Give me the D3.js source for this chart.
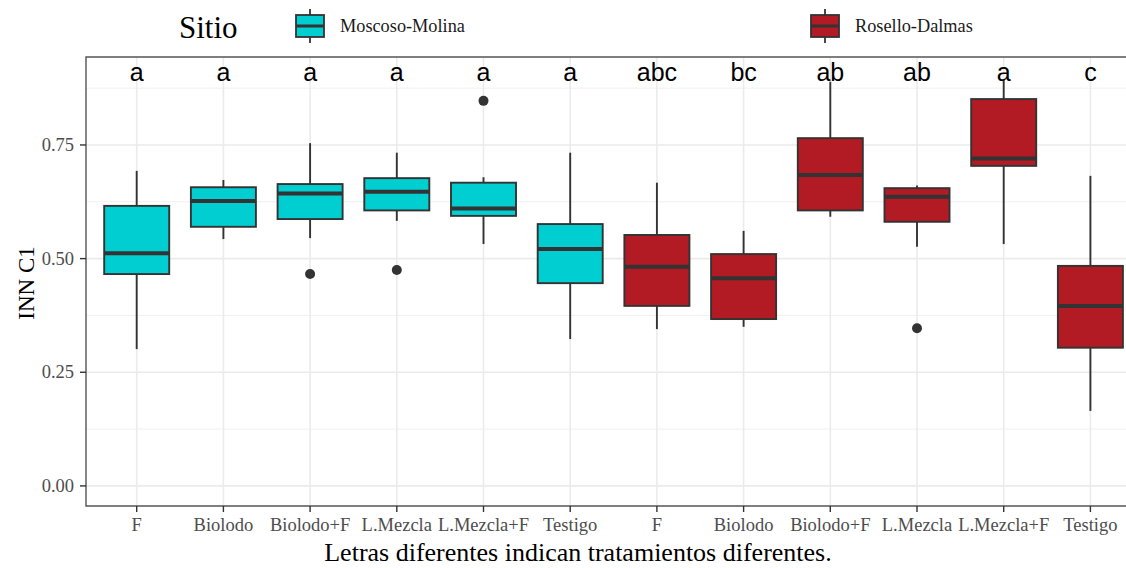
<!DOCTYPE html>
<html>
<head>
<meta charset="utf-8">
<script src="https://cdn.jsdelivr.net/npm/d3@7"></script>
<style>
  body { margin: 0; background: #fff; }
  svg { display: block; }
</style>
</head>
<body>
<svg id="chart" width="1126" height="568"></svg>
<script>
// treatments, one box per site x treatment
const treatments = ['F', 'Biolodo', 'Biolodo+F', 'L.Mezcla', 'L.Mezcla+F', 'Testigo']
const sites = ['Moscoso-Molina', 'Rosello-Dalmas']
const siteColors = ['#00CED1', '#B31B24']

// five-number summaries: [low, q1, median, q3, high]
const moscosoStats = [
  [0.301, 0.466, 0.512, 0.616, 0.693],
  [0.543, 0.570, 0.627, 0.657, 0.673],
  [0.545, 0.587, 0.643, 0.664, 0.754],
  [0.583, 0.606, 0.647, 0.677, 0.733],
  [0.532, 0.594, 0.610, 0.667, 0.679],
  [0.323, 0.446, 0.521, 0.576, 0.733],
]
const roselloStats = [
  [0.345, 0.396, 0.482, 0.552, 0.667],
  [0.350, 0.367, 0.457, 0.510, 0.561],
  [0.592, 0.606, 0.684, 0.765, 0.889],
  [0.526, 0.581, 0.636, 0.655, 0.661],
  [0.532, 0.704, 0.720, 0.851, 0.893],
  [0.165, 0.304, 0.396, 0.484, 0.682],
]
const moscosoOutliers = [[], [], [0.466], [0.475], [0.847], []]
const roselloOutliers = [[], [], [], [0.347], [], []]

const moscosoLetters = ['a', 'a', 'a', 'a', 'a', 'a']
const roselloLetters = ['abc', 'bc', 'ab', 'ab', 'a', 'c']

const yTicks = [0, 0.25, 0.5, 0.75]
const yMinor = [0.125, 0.375, 0.625, 0.875]

const boxes = [
  ...treatments.map((t, i) => ({
    key: 'MM-' + t, label: t, site: 0,
    stats: moscosoStats[i], outliers: moscosoOutliers[i], letter: moscosoLetters[i],
  })),
  ...treatments.map((t, i) => ({
    key: 'RD-' + t, label: t, site: 1,
    stats: roselloStats[i], outliers: roselloOutliers[i], letter: roselloLetters[i],
  })),
]

const svg = d3.select('#chart')
const panelLeft = 86, panelTop = 57, panelBottom = 506, panelRight = 1126
const serif = 'Liberation Serif, Times New Roman, serif'

const x = d3.scaleBand()
  .domain(boxes.map(d => d.key))
  .range([93.35, 93.35 + 86.7 * 12])
  .paddingInner(0.25)
  .paddingOuter(0.125)

const y = d3.scaleLinear()
  .domain([-0.0442, 0.9435])
  .range([panelBottom, panelTop])

const cx = d => x(d.key) + x.bandwidth() / 2

// grid
const grid = svg.append('g')
grid.selectAll('.minor').data(yMinor).join('line')
  .attr('x1', panelLeft).attr('x2', panelRight)
  .attr('y1', d => y(d)).attr('y2', d => y(d))
  .attr('stroke', '#f0f0f0').attr('stroke-width', 1)
grid.selectAll('.major').data(yTicks).join('line')
  .attr('x1', panelLeft).attr('x2', panelRight)
  .attr('y1', d => y(d)).attr('y2', d => y(d))
  .attr('stroke', '#ebebeb').attr('stroke-width', 1.6)
grid.selectAll('.vert').data(boxes).join('line')
  .attr('x1', cx).attr('x2', cx)
  .attr('y1', panelTop).attr('y2', panelBottom)
  .attr('stroke', '#ebebeb').attr('stroke-width', 1.6)

// boxes
const g = svg.selectAll('.box').data(boxes).join('g')
g.append('line')
  .attr('x1', cx).attr('x2', cx)
  .attr('y1', d => y(d.stats[4])).attr('y2', d => y(d.stats[0]))
  .attr('stroke', '#333').attr('stroke-width', 1.9)
g.append('rect')
  .attr('x', d => x(d.key)).attr('width', x.bandwidth())
  .attr('y', d => y(d.stats[3]))
  .attr('height', d => y(d.stats[1]) - y(d.stats[3]))
  .attr('fill', d => siteColors[d.site])
  .attr('stroke', '#333').attr('stroke-width', 1.9)
g.append('line')
  .attr('x1', d => x(d.key)).attr('x2', d => x(d.key) + x.bandwidth())
  .attr('y1', d => y(d.stats[2])).attr('y2', d => y(d.stats[2]))
  .attr('stroke', '#333').attr('stroke-width', 4)
g.selectAll('circle').data(d => d.outliers.map(v => ({ v, d }))).join('circle')
  .attr('cx', o => cx(o.d)).attr('cy', o => y(o.v))
  .attr('r', 5).attr('fill', '#333')

// letters
svg.selectAll('.letter').data(boxes).join('text')
  .attr('x', cx).attr('y', 81)
  .attr('text-anchor', 'middle')
  .attr('font-family', 'Liberation Sans, Arial, sans-serif')
  .attr('font-size', 25).attr('fill', '#000')
  .text(d => d.letter)

// panel border
svg.append('path')
  .attr('d', `M${panelRight},${panelTop}H${panelLeft}V${panelBottom}H${panelRight}`)
  .attr('fill', 'none').attr('stroke', '#555').attr('stroke-width', 1.4)

// y axis
const yAxis = svg.append('g')
yAxis.selectAll('line').data(yTicks).join('line')
  .attr('x1', panelLeft - 6).attr('x2', panelLeft)
  .attr('y1', d => y(d)).attr('y2', d => y(d))
  .attr('stroke', '#333').attr('stroke-width', 1.4)
yAxis.selectAll('text').data(yTicks).join('text')
  .attr('x', 74).attr('y', d => y(d) + 6)
  .attr('text-anchor', 'end')
  .attr('font-family', serif)
  .attr('font-size', 18.5).attr('fill', '#4d4d4d')
  .text(d => d3.format('.2f')(d))

// x axis
const xAxis = svg.append('g')
xAxis.selectAll('line').data(boxes).join('line')
  .attr('x1', cx).attr('x2', cx)
  .attr('y1', panelBottom).attr('y2', panelBottom + 6)
  .attr('stroke', '#333').attr('stroke-width', 1.4)
xAxis.selectAll('text').data(boxes).join('text')
  .attr('x', cx).attr('y', 531)
  .attr('text-anchor', 'middle')
  .attr('font-family', serif)
  .attr('font-size', 18.5).attr('fill', '#4d4d4d')
  .text(d => d.label)

// axis titles
svg.append('text')
  .attr('transform', 'translate(34,283) rotate(-90)')
  .attr('text-anchor', 'middle')
  .attr('font-family', serif)
  .attr('font-size', 23).attr('fill', '#000')
  .text('INN C1')
svg.append('text')
  .attr('x', 578).attr('y', 561)
  .attr('text-anchor', 'middle')
  .attr('font-family', serif)
  .attr('font-size', 26).attr('fill', '#000')
  .text('Letras diferentes indican tratamientos diferentes.')

// legend
svg.append('text')
  .attr('x', 179).attr('y', 38)
  .attr('font-family', serif)
  .attr('font-size', 31).attr('fill', '#000')
  .text('Sitio')

const legendX = [296, 811]
const leg = svg.selectAll('.leg').data(sites).join('g')
  .attr('transform', (d, i) => `translate(${legendX[i]},0)`)
leg.append('line')
  .attr('x1', 14).attr('x2', 14).attr('y1', 9).attr('y2', 43)
  .attr('stroke', '#333').attr('stroke-width', 1.8)
leg.append('rect')
  .attr('x', 0).attr('y', 15).attr('width', 28).attr('height', 22)
  .attr('fill', (d, i) => siteColors[i])
  .attr('stroke', '#333').attr('stroke-width', 1.8)
leg.append('line')
  .attr('x1', 0).attr('x2', 28).attr('y1', 26).attr('y2', 26)
  .attr('stroke', '#333').attr('stroke-width', 3)
leg.append('text')
  .attr('x', 44).attr('y', 32)
  .attr('font-family', serif)
  .attr('font-size', 18.3).attr('fill', '#1a1a1a')
  .text(d => d)
</script>
</body>
</html>
